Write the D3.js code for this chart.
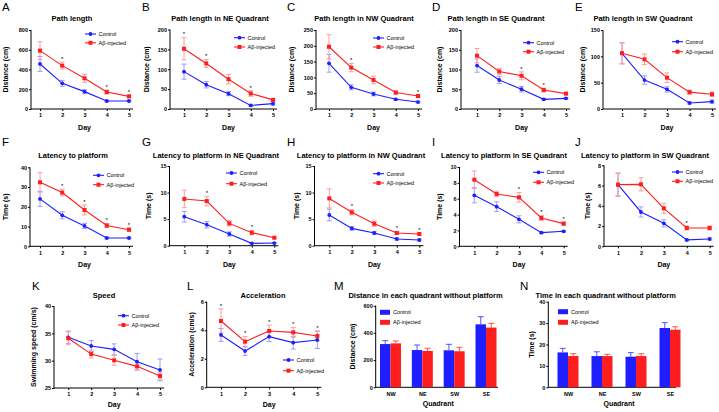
<!DOCTYPE html>
<html><head><meta charset="utf-8">
<script src="https://cdn.jsdelivr.net/npm/d3@7"></script>
<style>
body{margin:0;background:#fff}
svg{display:block}
text{font-family:"Liberation Sans",Arial,Helvetica,sans-serif;fill:#000}
</style>
</head><body>
<svg id="c" width="719" height="412"></svg>
<script>
// ---------- DATA ----------
const days = [1, 2, 3, 4, 5];
const quadrants = ["NW", "NE", "SW", "SE"];
const seriesNames = ["Control", "Aβ-injected"];

const pathCtrl = [456, 260, 176, 81, 81], pathCtrlSem = [75, 30, 20, 8, 8];
const pathAb = [591, 439, 311, 172, 128], pathAbSem = [90, 35, 40, 20, 12];
const pathSig = [2, 4, 5];

const neCtrl = [94, 61, 38.5, 9, 13.5], neCtrlSem = [19, 8, 5, 2, 4];
const neAb = [151.5, 114.6, 75, 39, 23], neAbSem = [28, 10, 12, 7, 3];
const neSig = [1, 2, 4];

const nwCtrl = [144.5, 68.6, 47.5, 30.6, 22], nwCtrlSem = [28, 8, 6, 3, 3];
const nwAb = [197, 131, 92, 52, 41], nwAbSem = [38, 13, 12, 5, 4];
const nwSig = [2, 5];

const seCtrl = [110, 73.4, 50, 24.5, 27], seCtrlSem = [17, 9, 7, 2, 2];
const seAb = [135, 95, 84, 48, 39], seAbSem = [18, 8, 10, 5, 3];
const seSig = [3, 4];

const swCtrl = [105.7, 55, 37.3, 11.4, 14], swCtrlSem = [20, 8, 5, 2, 3];
const swAb = [106, 94.3, 59.5, 32, 28], swAbSem = [20, 10, 9, 4, 4];
const swSig = [];

const latCtrl = [24, 15.7, 10.3, 4.2, 4.2], latCtrlSem = [3.8, 1.8, 1.3, 0.4, 0.4];
const latAb = [32.4, 27.2, 18.4, 10.5, 8.4], latAbSem = [5, 1.7, 2.5, 1, 0.8];
const latSig = [2, 3, 4, 5];

const latNeCtrl = [5.46, 3.95, 2.2, 0.44, 0.5], latNeCtrlSem = [1, 0.6, 0.4, 0.1, 0.1];
const latNeAb = [8.8, 8.4, 4.2, 2.45, 1.5], latNeAbSem = [1.65, 0.9, 0.5, 0.4, 0.15];
const latNeSig = [2, 4];

const latNwCtrl = [5.78, 3.26, 2.39, 1.26, 1.07], latNwCtrlSem = [1.1, 0.35, 0.3, 0.2, 0.2];
const latNwAb = [8.9, 6.28, 4.14, 2.39, 2.2], latNwAbSem = [1.8, 0.5, 0.5, 0.25, 0.2];
const latNwSig = [2, 4, 5];

const latSeCtrl = [6.43, 5.0, 3.4, 1.72, 1.89], latSeCtrlSem = [0.95, 0.6, 0.45, 0.1, 0.1];
const latSeAb = [8.4, 6.6, 6.17, 3.57, 2.86], latSeAbSem = [1.1, 0.35, 0.6, 0.3, 0.2];
const latSeSig = [3, 4, 5];

const latSwCtrl = [6.09, 3.39, 2.27, 0.63, 0.72], latSwCtrlSem = [1.15, 0.5, 0.35, 0.1, 0.1];
const latSwAb = [6.09, 6.12, 3.75, 1.81, 1.81], latSwAbSem = [1.1, 0.65, 0.5, 0.2, 0.2];
const latSwSig = [4];

const speedCtrl = [34.27, 32.68, 32.07, 29.8, 28.3], speedCtrlSem = [1.15, 1, 1, 1.5, 2];
const speedAb = [34.1, 31.2, 30.06, 28.96, 27.2], speedAbSem = [1.2, 0.7, 0.9, 0.7, 0.6];
const speedSig = [];

const accCtrl = [3.67, 2.54, 3.55, 3.13, 3.32], accCtrlSem = [0.45, 0.3, 0.35, 0.45, 0.6];
const accAb = [4.65, 3.2, 3.95, 3.85, 3.6], accAbSem = [0.85, 0.35, 0.4, 0.35, 0.35];
const accSig = [1, 2, 3, 4, 5];

const distCtrl = [318, 274, 272, 463], distCtrlSem = [25, 37, 44, 56];
const distAb = [323, 267, 265, 439], distAbSem = [18, 20, 29, 31];

const timeCtrl = [16.3, 14.6, 14.3, 27.7], timeCtrlSem = [1.9, 2, 1.9, 2.5];
const timeAb = [14.6, 14.6, 14.6, 26.9], timeAbSem = [1.1, 0.8, 1.1, 1.4];

const ticksPath = [0, 200, 400, 600, 800];
const ticks200 = [0, 50, 100, 150, 200];
const ticks250 = [0, 50, 100, 150, 200, 250];
const ticks150 = [0, 50, 100, 150];
const ticks40 = [0, 10, 20, 30, 40];
const ticks15 = [0, 5, 10, 15];
const ticks10 = [0, 2, 4, 6, 8, 10];
const ticks8 = [0, 2, 4, 6, 8];
const ticksSpeed = [25, 30, 35, 40];
const ticksAcc = [0, 2, 4, 6];
const ticksDist = [0, 200, 400, 600];

// ---------- STYLE ----------
const BLUE = "#1e1eff", RED = "#ff1e1e", LBLUE = "#9c9cff", LRED = "#ff9c9c";
const svg = d3.select("#c");

function styleAxis(g) {
  g.selectAll(".domain").remove();
  g.selectAll("line").attr("stroke", "#000").attr("stroke-width", 1);
  g.selectAll("text").attr("font-size", 5.5).attr("font-weight", "bold");
}

function frame(g, p, y) {
  const yAx = d3.axisLeft(y).tickValues(p.ticks).tickSize(2).tickPadding(1).tickFormat(d3.format("d"));
  g.append("g").attr("transform", `translate(${p.ax},0)`).call(yAx).call(styleAxis);
  g.append("line").attr("x1", p.ax).attr("x2", p.ax).attr("y1", p.yT).attr("y2", p.yB + 0.5)
    .attr("stroke", "#000").attr("stroke-width", 1);
  g.append("line").attr("x1", p.ax).attr("x2", p.xEnd).attr("y1", p.yB).attr("y2", p.yB)
    .attr("stroke", "#000").attr("stroke-width", 1);
  g.append("text").attr("x", p.letter[0]).attr("y", p.letter[1]).attr("font-size", 11.5).text(p.id);
  g.append("text").attr("x", p.tx).attr("y", p.ty).attr("text-anchor", "middle")
    .attr("font-size", 7.5).attr("font-weight", "bold").text(p.title);
  g.append("text").attr("transform", `translate(${p.ylx},${(p.yT + p.yB) / 2}) rotate(-90)`)
    .attr("dy", "0.35em").attr("text-anchor", "middle").attr("font-size", 7).attr("font-weight", "bold")
    .text(p.ylabel);
  g.append("text").attr("x", p.xlx).attr("y", p.xly).attr("text-anchor", "middle")
    .attr("font-size", 7).attr("font-weight", "bold").text(p.xlabel);
}

function marker(g, type, cx, cy, color) {
  if (type === "c") g.append("circle").attr("cx", cx).attr("cy", cy).attr("r", 1.9).attr("fill", color);
  else g.append("rect").attr("x", cx - 2).attr("y", cy - 2).attr("width", 4).attr("height", 4).attr("fill", color);
}

function linePanel(p) {
  const g = svg.append("g");
  const x = d3.scaleLinear().domain([1, 5]).range([p.d1, p.d5]);
  const y = d3.scaleLinear().domain([p.ticks[0], p.ticks[p.ticks.length - 1]]).range([p.yB, p.yT]);
  p.xEnd = p.d5 + 4;
  p.xlx = (p.d1 + p.d5) / 2;
  p.xlabel = "Day";
  frame(g, p, y);
  const xAx = d3.axisBottom(x).tickValues(days).tickFormat(d3.format("d")).tickSize(2).tickPadding(2.5).tickSizeOuter(0);
  g.append("g").attr("transform", `translate(0,${p.yB})`).call(xAx).call(styleAxis);

  const series = [
    { v: p.ctrl, e: p.ctrlSem, c: BLUE, lc: LBLUE, m: "c" },
    { v: p.ab, e: p.abSem, c: RED, lc: LRED, m: "s" }
  ];
  series.forEach(s => {
    s.v.forEach((v, i) => {
      const cx = x(days[i]), t = y(v + s.e[i]), b = y(v - s.e[i]);
      g.append("line").attr("x1", cx).attr("x2", cx).attr("y1", t).attr("y2", b).attr("stroke", s.lc).attr("stroke-width", 1);
      [t, b].forEach(yy => g.append("line").attr("x1", cx - 2.5).attr("x2", cx + 2.5).attr("y1", yy).attr("y2", yy)
        .attr("stroke", s.lc).attr("stroke-width", 1));
    });
  });
  const line = d3.line().x((d, i) => x(days[i])).y(d => y(d));
  series.forEach(s => {
    g.append("path").attr("d", line(s.v)).attr("fill", "none").attr("stroke", s.c).attr("stroke-width", 1.1);
  });
  series.forEach(s => s.v.forEach((v, i) => marker(g, s.m, x(days[i]), y(v), s.c)));
  p.sig.forEach(d => {
    const i = days.indexOf(d);
    const top = Math.min(y(p.ab[i] + p.abSem[i]), y(p.ctrl[i] + p.ctrlSem[i]));
    g.append("text").attr("x", x(d)).attr("y", top - 1.2).attr("text-anchor", "middle")
      .attr("font-size", 6).text("*");
  });
  seriesNames.forEach((n, k) => {
    const ly = p.lg[1] + k * p.lg[2];
    const s = series[k];
    g.append("line").attr("x1", p.lg[0]).attr("x2", p.lg[0] + 11).attr("y1", ly).attr("y2", ly)
      .attr("stroke", s.c).attr("stroke-width", 1.1);
    marker(g, s.m, p.lg[0] + 5.5, ly, s.c);
    g.append("text").attr("x", p.lg[0] + 13.5).attr("y", ly).attr("dy", "0.35em").attr("font-size", 5.5).text(n);
  });
}

function barPanel(p) {
  const g = svg.append("g");
  const x = d3.scalePoint().domain(quadrants).range([p.c1, p.c4]);
  const y = d3.scaleLinear().domain([p.ticks[0], p.ticks[p.ticks.length - 1]]).range([p.yB, p.yT]);
  p.xlx = (p.c1 + p.c4) / 2;
  p.xlabel = "Quadrant";
  frame(g, p, y);
  const xAx = d3.axisBottom(x).tickSize(0).tickPadding(5).tickSizeOuter(0);
  g.append("g").attr("transform", `translate(0,${p.yB})`).call(xAx).call(styleAxis);
  const bw = p.bw;
  const series = [
    { v: p.ctrl, e: p.ctrlSem, c: BLUE, off: -bw },
    { v: p.ab, e: p.abSem, c: RED, off: 0 }
  ];
  series.forEach(s => {
    s.v.forEach((v, i) => {
      const cx = x(quadrants[i]) + s.off;
      const top = y(v), et = y(v + s.e[i]);
      g.append("line").attr("x1", cx + bw / 2).attr("x2", cx + bw / 2).attr("y1", top).attr("y2", et)
        .attr("stroke", s.c).attr("stroke-opacity", 0.75).attr("stroke-width", 1);
      g.append("line").attr("x1", cx + bw / 2 - 3).attr("x2", cx + bw / 2 + 3).attr("y1", et).attr("y2", et)
        .attr("stroke", s.c).attr("stroke-opacity", 0.75).attr("stroke-width", 1);
      g.append("rect").attr("x", cx).attr("y", top).attr("width", bw).attr("height", p.yB - top).attr("fill", s.c);
    });
  });
  seriesNames.forEach((n, k) => {
    const ly = p.lg[1] + k * p.lg[2];
    g.append("rect").attr("x", p.lg[0]).attr("y", ly - 2.5).attr("width", 10).attr("height", 5).attr("fill", series[k].c);
    g.append("text").attr("x", p.lg[0] + 13).attr("y", ly).attr("dy", "0.35em").attr("font-size", 5.5).text(n);
  });
}

// ---------- PANELS (layout) ----------
const r1 = { yT: 30, yB: 109, ty: 20.5, xly: 130 };
linePanel({ ...r1, id: "A", letter: [2, 11], title: "Path length", tx: 72, ylabel: "Distance (cm)", ylx: 6,
  ax: 31, d1: 40, d5: 129, ticks: ticksPath, ctrl: pathCtrl, ctrlSem: pathCtrlSem, ab: pathAb, abSem: pathAbSem, sig: pathSig, lg: [85, 34, 8.8] });
linePanel({ ...r1, yT: 29.5, id: "B", letter: [142, 11], title: "Path length in NE Quadrant", tx: 220, ylabel: "Distance (cm)", ylx: 147,
  ax: 170, d1: 184, d5: 273, ticks: ticks200, ctrl: neCtrl, ctrlSem: neCtrlSem, ab: neAb, abSem: neAbSem, sig: neSig, lg: [234, 37.7, 9.3] });
linePanel({ ...r1, id: "C", letter: [287, 11], title: "Path length in NW Quadrant", tx: 364, ylabel: "Distance (cm)", ylx: 292,
  ax: 316, d1: 329, d5: 418, ticks: ticks250, ctrl: nwCtrl, ctrlSem: nwCtrlSem, ab: nwAb, abSem: nwAbSem, sig: nwSig, lg: [373, 38, 9] });
linePanel({ ...r1, id: "D", letter: [432, 11], title: "Path length in SE Quadrant", tx: 496, ylabel: "Distance (cm)", ylx: 440,
  ax: 461, d1: 477, d5: 566, ticks: ticks200, ctrl: seCtrl, ctrlSem: seCtrlSem, ab: seAb, abSem: seAbSem, sig: seSig, lg: [523, 42.7, 9] });
linePanel({ ...r1, id: "E", letter: [575, 11], title: "Path length in SW Quadrant", tx: 643, ylabel: "Distance (cm)", ylx: 583,
  ax: 603, d1: 622, d5: 712, ticks: ticks150, ctrl: swCtrl, ctrlSem: swCtrlSem, ab: swAb, abSem: swAbSem, sig: swSig, lg: [672, 41.7, 10] });

const r2 = { ty: 157.5, xly: 267 };
linePanel({ ...r2, yT: 167.3, yB: 246.3, id: "F", letter: [2, 146], title: "Latency to platform", tx: 73, ylabel: "Time (s)", ylx: 6,
  ax: 30, d1: 40, d5: 129, ticks: ticks40, ctrl: latCtrl, ctrlSem: latCtrlSem, ab: latAb, abSem: latAbSem, sig: latSig, lg: [93, 175.3, 9.4] });
linePanel({ ...r2, yT: 166, yB: 245.7, id: "G", letter: [142, 146], title: "Latency to platform in NE Quadrant", tx: 216, ylabel: "Time (s)", ylx: 149,
  ax: 169.5, d1: 184.3, d5: 274.3, ticks: ticks15, ctrl: latNeCtrl, ctrlSem: latNeCtrlSem, ab: latNeAb, abSem: latNeAbSem, sig: latNeSig, lg: [226, 173, 10.7] });
linePanel({ ...r2, yT: 166, yB: 245.7, id: "H", letter: [287, 146], title: "Latency to platform in NW Quadrant", tx: 361, ylabel: "Time (s)", ylx: 297,
  ax: 314.5, d1: 329.3, d5: 419.3, ticks: ticks15, ctrl: latNwCtrl, ctrlSem: latNwCtrlSem, ab: latNwAb, abSem: latNwAbSem, sig: latNwSig, lg: [373, 173.7, 9.3] });
linePanel({ ...r2, yT: 167, yB: 246.3, id: "I", letter: [432, 146], title: "Latency to platform in SE Quadrant", tx: 504, ylabel: "Time (s)", ylx: 440,
  ax: 459.5, d1: 474.3, d5: 563.7, ticks: ticks10, ctrl: latSeCtrl, ctrlSem: latSeCtrlSem, ab: latSeAb, abSem: latSeAbSem, sig: latSeSig, lg: [533, 172.3, 10] });
linePanel({ ...r2, yT: 165.3, yB: 246.3, id: "J", letter: [575, 146], title: "Latency to platform in SW Quadrant", tx: 645, ylabel: "Time (s)", ylx: 588,
  ax: 604, d1: 618, d5: 709.7, ticks: ticks8, ctrl: latSwCtrl, ctrlSem: latSwCtrlSem, ab: latSwAb, abSem: latSwAbSem, sig: latSwSig, lg: [672, 172, 9.3] });

const r3 = { ty: 298, xly: 407 };
linePanel({ ...r3, yT: 306, yB: 388, id: "K", letter: [32, 290], title: "Speed", tx: 104, ylabel: "Swimming speed (cm/s)", ylx: 33.3,
  ax: 54, d1: 68.3, d5: 160, ticks: ticksSpeed, ctrl: speedCtrl, ctrlSem: speedCtrlSem, ab: speedAb, abSem: speedAbSem, sig: speedSig, lg: [118, 315.7, 9.3] });
linePanel({ ...r3, yT: 301.7, yB: 387.3, id: "L", letter: [187, 290], title: "Acceleration", tx: 263, ylabel: "Acceleration (cm/s)", ylx: 191.7,
  ax: 206.7, d1: 221, d5: 317.3, ticks: ticksAcc, ctrl: accCtrl, ctrlSem: accCtrlSem, ab: accAb, abSem: accAbSem, sig: accSig, lg: [283, 360, 10.7] });
barPanel({ ...r3, xly: 406, yT: 305.7, yB: 387.3, id: "M", letter: [334, 290], title: "Distance in each quadrant without platform", tx: 425.5,
  ylabel: "Distance (cm)", ylx: 353, ax: 375.7, c1: 390.5, c4: 486, xEnd: 498, bw: 10.5, ticks: ticksDist,
  ctrl: distCtrl, ctrlSem: distCtrlSem, ab: distAb, abSem: distAbSem, lg: [380, 312.3, 10] });
barPanel({ ...r3, xly: 406, yT: 301.7, yB: 387.3, id: "N", letter: [520, 290], title: "Time in each quadrant without platform", tx: 605.7,
  ylabel: "Time (s)", ylx: 531.7, ax: 548.3, c1: 568, c4: 670, xEnd: 676, bw: 10.5, ticks: ticks40,
  ctrl: timeCtrl, ctrlSem: timeCtrlSem, ab: timeAb, abSem: timeAbSem, lg: [558, 311.7, 10.6] });
</script>
</body></html>
